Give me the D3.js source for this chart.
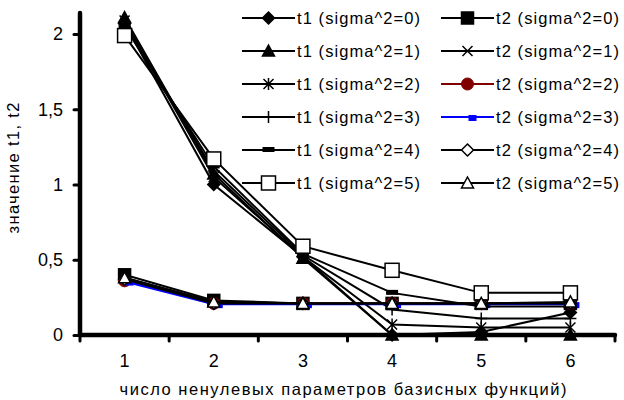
<!DOCTYPE html>
<html>
<head>
<meta charset="utf-8">
<script src="https://cdn.jsdelivr.net/npm/d3@7"></script>
<style>
  body { margin: 0; background: #fff; }
  svg { display: block; }
  svg text { font-family: "Liberation Sans", Arial, sans-serif; }
</style>
</head>
<body>
<div id="chart"></div>
<script>
// categories on x axis
var categories = [1, 2, 3, 4, 5, 6];
var yTicks = [0, 0.5, 1, 1.5, 2];

// t1 series, one per sigma^2
var t1_s0 = [2.07, 1.00, 0.52, 0.00, 0.02, 0.15];
var t1_s1 = [2.11, 1.07, 0.51, 0.00, 0.00, 0.00];
var t1_s2 = [2.09, 1.05, 0.52, 0.07, 0.05, 0.05];
var t1_s3 = [2.08, 1.09, 0.53, 0.17, 0.11, 0.11];
var t1_s4 = [2.05, 1.12, 0.54, 0.28, 0.19, 0.19];
var t1_s5 = [1.99, 1.17, 0.59, 0.43, 0.28, 0.28];

// t2 series, one per sigma^2
var t2_s0 = [0.40, 0.23, 0.21, 0.21, 0.21, 0.21];
var t2_s1 = [0.38, 0.22, 0.21, 0.21, 0.21, 0.21];
var t2_s2 = [0.36, 0.21, 0.21, 0.21, 0.21, 0.21];
var t2_s3 = [0.355, 0.205, 0.205, 0.205, 0.205, 0.205];
var t2_s4 = [0.37, 0.21, 0.21, 0.21, 0.21, 0.21];
var t2_s5 = [0.38, 0.22, 0.21, 0.21, 0.21, 0.22];

// legend / draw order (row by row, t1 then t2)
var series = [
  {name: "t1 (sigma^2=0)", values: t1_s0, marker: "diamond", color: "#000"},
  {name: "t2 (sigma^2=0)", values: t2_s0, marker: "square", color: "#000"},
  {name: "t1 (sigma^2=1)", values: t1_s1, marker: "triangle", color: "#000"},
  {name: "t2 (sigma^2=1)", values: t2_s1, marker: "x", color: "#000"},
  {name: "t1 (sigma^2=2)", values: t1_s2, marker: "star", color: "#000"},
  {name: "t2 (sigma^2=2)", values: t2_s2, marker: "circle", color: "#800000"},
  {name: "t1 (sigma^2=3)", values: t1_s3, marker: "plus", color: "#000"},
  {name: "t2 (sigma^2=3)", values: t2_s3, marker: "dash", color: "#0000ff"},
  {name: "t1 (sigma^2=4)", values: t1_s4, marker: "bar", color: "#000"},
  {name: "t2 (sigma^2=4)", values: t2_s4, marker: "odiamond", color: "#000"},
  {name: "t1 (sigma^2=5)", values: t1_s5, marker: "osquare", color: "#000"},
  {name: "t2 (sigma^2=5)", values: t2_s5, marker: "otriangle", color: "#000"}
];

var width = 624, height = 400;
var svg = d3.select("#chart").append("svg")
  .attr("width", width)
  .attr("height", height);

var x = d3.scaleBand().domain(categories).range([80, 615]);
var y = d3.scaleLinear().domain([0, 2.14]).range([335, 13]);
function cx(c) { return x(c) + x.bandwidth() / 2; }

// draw one marker centered at 0,0
function marker(g, type, color) {
  var s = 6;
  if (type === "diamond" || type === "odiamond") {
    g.append("path").attr("d", "M0,-" + s + "L" + s + ",0L0," + s + "L-" + s + ",0Z")
      .attr("fill", type === "diamond" ? color : "#fff").attr("stroke", color).attr("stroke-width", 1.5);
  } else if (type === "square" || type === "osquare") {
    var r = type === "square" ? 6 : 7;
    g.append("rect").attr("x", -r).attr("y", -r).attr("width", 2 * r).attr("height", 2 * r)
      .attr("fill", type === "square" ? color : "#fff").attr("stroke", color).attr("stroke-width", 1.5);
  } else if (type === "triangle" || type === "otriangle") {
    g.append("path").attr("d", "M0,-6L6,5L-6,5Z")
      .attr("fill", type === "triangle" ? color : "#fff").attr("stroke", color).attr("stroke-width", 1.5);
  } else if (type === "x" || type === "star") {
    g.append("path").attr("d", "M-5,-5L5,5M-5,5L5,-5" + (type === "star" ? "M0,-6L0,6" : ""))
      .attr("stroke", color).attr("stroke-width", 1.5);
  } else if (type === "plus") {
    g.append("path").attr("d", "M-6,0L6,0M0,-6L0,6").attr("stroke", color).attr("stroke-width", 1.5);
  } else if (type === "circle") {
    g.append("circle").attr("r", 6).attr("fill", color).attr("stroke", color);
  } else if (type === "dash") {
    g.append("rect").attr("x", 1).attr("y", -2).attr("width", 8).attr("height", 6).attr("fill", color);
  } else if (type === "bar") {
    g.append("rect").attr("x", -6).attr("y", -3).attr("width", 12).attr("height", 5).attr("fill", color);
  }
}

// series lines and markers
var line = d3.line().x(function(d, i) { return cx(categories[i]); }).y(function(d) { return y(d); });
var plot = svg.append("g");
series.forEach(function(s) {
  var g = plot.append("g");
  g.append("path").attr("d", line(s.values))
    .attr("fill", "none").attr("stroke", s.color).attr("stroke-width", 2);
  s.values.forEach(function(v, i) {
    marker(g.append("g").attr("transform", "translate(" + cx(categories[i]) + "," + y(v) + ")"), s.marker, s.color);
  });
});

// y axis
var yAxis = svg.append("g").attr("transform", "translate(80,0)")
  .call(d3.axisLeft(y).tickValues(yTicks).tickSize(6).tickPadding(11)
    .tickFormat(function(d) { return String(d).replace(".", ","); }));
yAxis.attr("font-family", null);
yAxis.select(".domain").remove();
yAxis.selectAll(".tick line").attr("stroke-width", 3).attr("stroke-linecap", "round");
yAxis.selectAll(".tick text").attr("font-size", 18).attr("fill", "#000");
svg.append("line").attr("x1", 80).attr("x2", 80).attr("y1", y.range()[1]).attr("y2", 335)
  .attr("stroke", "#000").attr("stroke-width", 4.5).attr("stroke-linecap", "round");

// x axis (labels at centre, ticks at category borders)
var xAxis = svg.append("g").attr("transform", "translate(0,335)")
  .call(d3.axisBottom(x).tickSize(0).tickPadding(19));
xAxis.attr("font-family", null);
xAxis.select(".domain").remove();
xAxis.selectAll(".tick text").attr("font-size", 18).attr("fill", "#000");
svg.append("g").selectAll("line")
  .data(categories.map(function(c) { return x(c); }).concat([x.range()[1]]))
  .enter().append("line")
  .attr("x1", function(d) { return d; }).attr("x2", function(d) { return d; })
  .attr("y1", 335).attr("y2", 341)
  .attr("stroke", "#000").attr("stroke-width", 3).attr("stroke-linecap", "round");
svg.append("line").attr("x1", 80).attr("x2", 615).attr("y1", 335).attr("y2", 335)
  .attr("stroke", "#000").attr("stroke-width", 4.5).attr("stroke-linecap", "round");

// axis titles
svg.append("text").attr("x", 343).attr("y", 395).attr("text-anchor", "middle")
  .attr("font-size", 16.5).attr("textLength", 447).attr("lengthAdjust", "spacing")
  .text("число ненулевых параметров базисных функций)");
svg.append("text").attr("transform", "translate(19,168) rotate(-90)").attr("text-anchor", "middle")
  .attr("font-size", 16.5).attr("textLength", 131).attr("lengthAdjust", "spacing")
  .text("значение t1, t2");

// legend, two columns
var legend = svg.append("g");
series.forEach(function(s, i) {
  var col = i % 2, row = Math.floor(i / 2);
  var lx = col === 0 ? 242 : 441;
  var ly = 18 + row * 33;
  var g = legend.append("g").attr("transform", "translate(" + lx + "," + ly + ")");
  g.append("line").attr("x1", 0).attr("x2", 53).attr("stroke", s.color).attr("stroke-width", 2);
  marker(g.append("g").attr("transform", "translate(26.5,0)"), s.marker, s.color);
  g.append("text").attr("x", 55).attr("dy", "0.36em").attr("font-size", 16.5)
    .attr("textLength", 123).attr("lengthAdjust", "spacing").text(s.name);
});
</script>
</body>
</html>
